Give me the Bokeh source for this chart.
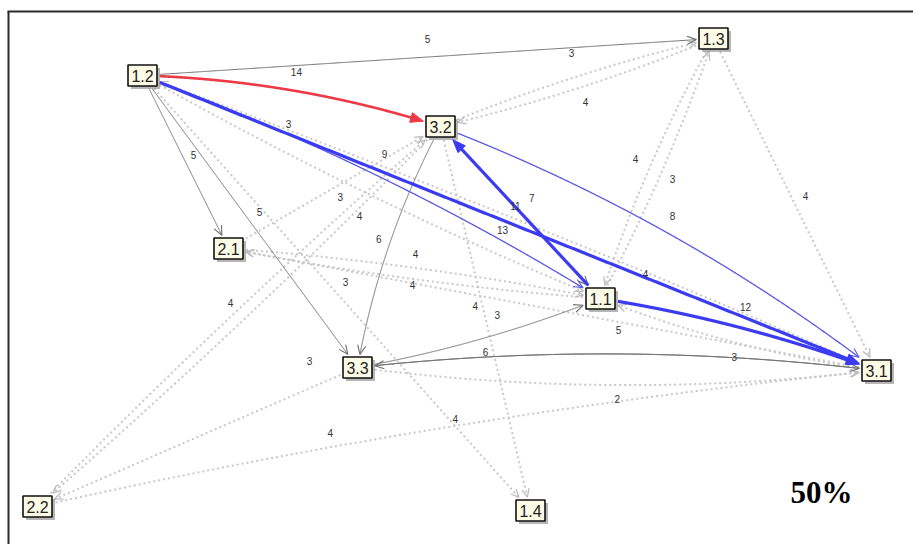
import numpy as np
from bokeh.plotting import figure
from bokeh.models import Range1d, ColumnDataSource
from bokeh.core.properties import value
from bokeh.embed import file_html
from bokeh.resources import INLINE

# ---------------- data ----------------
node_names = ["1.1", "1.2", "1.3", "1.4", "2.1", "2.2", "3.1", "3.2", "3.3"]
node_x = [600, 142, 713, 530, 228, 37, 876, 440, 357]
node_y = [298, 75, 38, 510, 248, 506, 370, 126, 367]

edge_source = ["1.2", "1.2", "1.2", "1.2", "3.2", "3.2", "3.3", "3.3", "3.1",
               "1.2", "1.2", "1.1", "3.2", "1.1",
               "1.3", "3.2", "1.3", "1.1", "1.3", "2.1", "1.2", "3.2", "2.2",
               "2.1", "3.1", "1.1", "3.2", "1.2", "3.1", "3.3", "2.2", "3.3", "3.1"]
edge_target = ["1.3", "3.2", "2.1", "3.3", "3.3", "1.1", "1.1", "3.1", "3.3",
               "3.1", "1.1", "3.2", "3.1", "3.1",
               "3.2", "1.3", "1.1", "1.3", "3.1", "3.2", "1.1", "2.2", "3.2",
               "1.1", "2.1", "2.1", "1.4", "1.4", "1.1", "2.2", "3.1", "3.1", "1.2"]
edge_weight = [5, 14, 5, 5, 6, 7, 3, 3, 6,
               4, 13, 11, 8, 12,
               4, 3, 4, 3, 4, 9, 3, 4, 4,
               4, 4, 3, 4, 4, 5, 3, 4, 2, 3]
edge_type = ["solid", "red", "solid", "solid", "solid", "solid", "solid", "solid", "solid",
             "blue_thick", "blue", "blue_thick", "blue", "blue_thick",
             "dotted", "dotted", "dotted", "dotted", "dotted", "dotted", "dotted", "dotted", "dotted",
             "dotted", "dotted", "dotted", "dotted", "dotted", "dotted", "dotted", "dotted", "dotted", "dotted"]

# ---------------- layout / style ----------------
edge_bend = [0, 0.07, 0, 0, -0.078, 0, -0.05, 0.058, -0.058,
             0, 0.05, 0, 0.072, 0.05,
             0.04, 0.04, -0.05, -0.04, 0, 0, -0.03, 0.02, 0.02,
             0.03, 0, 0.03, 0, 0, 0.06, 0, 0.03, -0.062, -0.015]
label_t = [0.501, 0.50, 0.488, 0.4955, 0.495, 0.488, 0.589, 0.726, 0.7535,
           0.6837, 0.7677, 0.536, 0.493, 0.5,
           0.492, 0.513, 0.498, 0.489, 0.493, 0.7465, 0.454, 0.2166, 0.506,
           0.496, 0.7156, 0.679, 0.462, 0.7966, 0.9106, 0.119, 0.354, 0.501, 0.806]
label_off = [18, 18.4, 10, 13, -12, 18, 18, 1, -4.6,
             3, 10, -1, 16.8, 20.8,
             15, 23.6, -16.6, -12.5, 13, 4.5, -15.4, 5.5, 10.5,
             13.4, 2, 12.2, -7, 5, 23.6, -24.6, 14.4, -13.5, -6.2]

STYLE = {
    "dotted": dict(color="#c8c8c8", width=2.0, dash="2 3", head="open", size=9, hcolor="#bdbdbd"),
    "solid": dict(color="#6e6e6e", width=1.0, dash="solid", head="open", size=10, hcolor="#6e6e6e"),
    "blue": dict(color="#5858e4", width=1.3, dash="solid", head="open", size=10, hcolor="#5858e4"),
    "blue_thick": dict(color="#3b3bf2", width=3.2, dash="solid", head="filled", size=13, hcolor="#3b3bf2"),
    "red": dict(color="#ee3a46", width=2.6, dash="solid", head="filled", size=13, hcolor="#ee3a46"),
}
BW, BH, PAD = 14, 10, 3

W, H = 913, 544
p = figure(width=W, height=H, x_range=Range1d(0, W), y_range=Range1d(H, 0),
           output_backend="svg", toolbar_location=None, min_border=0,
           x_axis_location=None, y_axis_location=None)
p.grid.visible = False
p.outline_line_color = None
p.background_fill_color = "white"
p.border_fill_color = "white"

pos = {n: np.array([x, y], dtype=float) for n, x, y in zip(node_names, node_x, node_y)}


def inside(pts, c):
    return (np.abs(pts[:, 0] - c[0]) <= BW + PAD) & (np.abs(pts[:, 1] - c[1]) <= BH + PAD)


groups = {k: dict(xs=[], ys=[]) for k in STYLE}
open_heads = {k: dict(xs=[], ys=[]) for k in STYLE}
filled_heads = {k: dict(xs=[], ys=[]) for k in STYLE}
lab_x, lab_y, lab_text = [], [], []

for s, t, w, kind, bend, lt, lo in zip(edge_source, edge_target, edge_weight, edge_type,
                                       edge_bend, label_t, label_off):
    P0, P2 = pos[s], pos[t]
    d = P2 - P0
    L = np.hypot(*d)
    nrm = np.array([d[1], -d[0]]) / L
    C = (P0 + P2) / 2 + bend * L * nrm
    ts = np.linspace(0, 1, 600)[:, None]
    pts = (1 - ts) ** 2 * P0 + 2 * ts * (1 - ts) * C + ts ** 2 * P2
    mask = ~inside(pts, P0) & ~inside(pts, P2)
    idx = np.where(mask)[0]
    seg = pts[idx[0]:idx[-1] + 1]
    tip = seg[-1]
    tt = ts[idx[-1], 0]
    der = 2 * (1 - tt) * (C - P0) + 2 * tt * (P2 - C)
    u = der / np.hypot(*der)
    pu = np.array([-u[1], u[0]])
    st = STYLE[kind]
    sz = st["size"]
    if st["head"] == "open":
        ang = np.deg2rad(24)
        r1 = np.array([u[0] * np.cos(ang) - u[1] * np.sin(ang), u[0] * np.sin(ang) + u[1] * np.cos(ang)])
        r2 = np.array([u[0] * np.cos(-ang) - u[1] * np.sin(-ang), u[0] * np.sin(-ang) + u[1] * np.cos(-ang)])
        a = tip - sz * r1
        b = tip - sz * r2
        open_heads[kind]["xs"].append([a[0], tip[0], b[0]])
        open_heads[kind]["ys"].append([a[1], tip[1], b[1]])
    else:
        base = tip - sz * u
        a = base + 5 * pu
        b = base - 5 * pu
        filled_heads[kind]["xs"].append([tip[0], a[0], b[0]])
        filled_heads[kind]["ys"].append([tip[1], a[1], b[1]])
        cut = np.hypot(*(seg - tip).T) > sz * 0.7
        seg = seg[cut]
    groups[kind]["xs"].append(list(seg[:, 0]))
    groups[kind]["ys"].append(list(seg[:, 1]))
    B = (1 - lt) ** 2 * P0 + 2 * lt * (1 - lt) * C + lt ** 2 * P2
    lp = B + lo * nrm
    lab_x.append(lp[0])
    lab_y.append(lp[1])
    lab_text.append(str(w))

# frame lines (top and left border of the original picture)
p.segment(x0=[8, 7], y0=[11, 11], x1=[8, W], y1=[H, 11], line_color="#2a2a2a", line_width=2)

for kind in ["dotted", "solid", "blue", "blue_thick", "red"]:
    st = STYLE[kind]
    if groups[kind]["xs"]:
        p.multi_line(xs="xs", ys="ys", source=ColumnDataSource(groups[kind]), line_color=st["color"],
                     line_width=st["width"], line_dash=st["dash"], line_cap="butt")
    if open_heads[kind]["xs"]:
        p.multi_line(xs="xs", ys="ys", source=ColumnDataSource(open_heads[kind]), line_color=st["hcolor"],
                     line_width=1.3 if kind == "dotted" else 1.1)
    if filled_heads[kind]["xs"]:
        p.patches(xs="xs", ys="ys", source=ColumnDataSource(filled_heads[kind]), fill_color=st["hcolor"],
                  line_color=st["hcolor"])

# node boxes
nsrc = ColumnDataSource(dict(x=node_x, y=node_y, name=node_names,
                             sx=[x + 3 for x in node_x], sy=[y + 3 for y in node_y]))
p.rect(x="sx", y="sy", width=29, height=21, source=nsrc, fill_color="#7a7a7a", fill_alpha=0.55, line_color=None)
p.rect(x="x", y="y", width=29, height=21, source=nsrc, fill_color="#fbfbe6", line_color="#111111", line_width=1.6)
p.text(x="x", y="y", text="name", source=nsrc, text_align="center", text_baseline="middle",
       text_font=value("Liberation Sans"), text_font_size="16px", text_color="#222222")

# edge weight labels
p.text(x=lab_x, y=lab_y, text=lab_text, text_align="center", text_baseline="middle",
       text_font=value("Liberation Sans"), text_font_size="10px", text_color="#333333")

# annotation
p.text(x=[821], y=[492], text=["50%"], text_align="center", text_baseline="middle",
       text_font=value("Liberation Serif"), text_font_style="bold", text_font_size="31px", text_color="black")

open("out.html", "w").write(file_html(p, INLINE))
